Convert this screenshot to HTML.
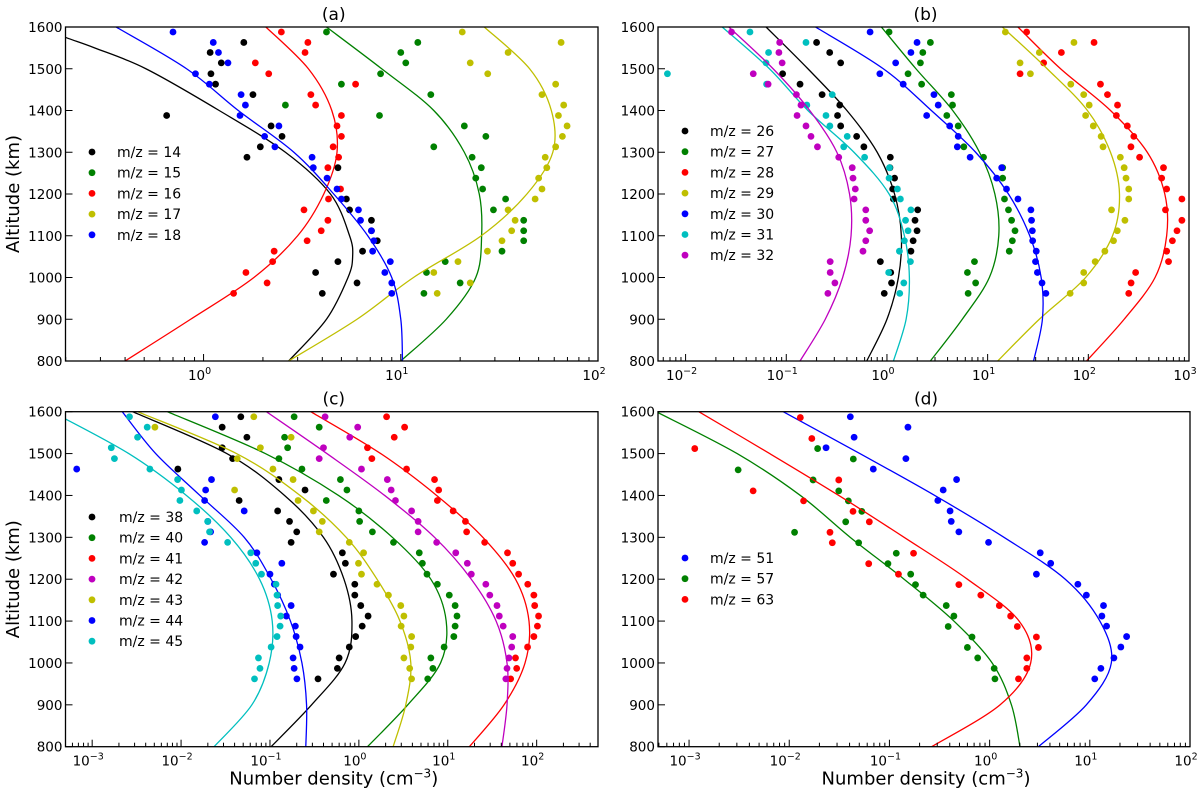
<!DOCTYPE html>
<html><head><meta charset="utf-8"><style>
html,body{margin:0;padding:0;background:#fff;}
svg{display:block;font-family:"DejaVu Sans","Liberation Sans",sans-serif;}
</style></head><body>
<svg id="fig" width="1200" height="795" viewBox="0 0 1200 795"></svg>
<script>
// ---------- DATA ----------
const altGrid=[1588,1563,1539,1514,1488,1463,1438,1413,1388,1363,1338,1313,1288,1263,1238,1212,1188,1162,1137,1112,1088,1063,1038,1012,987,962];
const fitAlt=[1600,1500,1400,1300,1200,1100,1000,900,800];
// panel a
const a14Alt=[1563,1539,1514,1488,1463,1438,1388,1363,1338,1313,1288,1263,1188,1162,1137,1112,1088,1063,1038,1012,987,962];
const a14N=[1.6,1.08,1.23,1.09,1.15,1.78,0.65,2.2,2.5,1.94,1.66,4.8,5.3,5.5,7.1,7.1,7.6,6.4,4.8,3.7,6.0,4.0];
const a14FitAlt=[1600,1575,1550,1500,1400,1300,1200,1100,1050,1000,900,800];
const a14Fit=[0.15,0.2,0.28,0.51,1.2,2.6,4.4,5.5,5.7,5.4,4.2,2.7];
const a15N=[4.2,12.2,10,10.6,7.9,5.0,14.2,2.6,7.8,21,27,14.7,23,25.6,24,26,34,29.5,42,42,42,32.6,16.8,13.5,20,13.1];
const a15Fit=[4.2,8,14.7,21,25,25.7,24,17,10];
const a16Alt=[1588,1563,1539,1514,1488,1463,1438,1413,1388,1363,1338,1313,1288,1263,1212,1188,1162,1137,1112,1088,1063,1038,1012,987,962];
const a16N=[2.48,3.38,3.27,1.83,2.14,5.9,3.5,3.7,5.0,4.75,5.0,4.54,4.84,4.27,4.95,4.3,3.23,4.27,3.95,3.35,2.28,2.24,1.64,2.1,1.42];
const a16Fit=[2.07,3.4,4.47,4.75,4.07,3.0,1.8,0.86,0.4];
const a17N=[20.5,65,35,22.5,27.6,61,52,67,63,69.7,66,61,54,55,50,52,48,35,38,36.5,32.6,27.5,19.5,14.7,22.5,15.3];
const a17Fit=[26.5,45,58,59,43.6,25.6,11.6,6.0,2.7];
const a18N=[0.70,1.12,1.19,1.33,0.91,1.07,1.55,1.63,1.53,2.41,2.04,2.3,3.55,3.6,4.23,4.75,5.0,6.1,6.25,7.1,7.3,7.2,8.85,8.3,9.0,9.0];
const a18Fit=[0.36,0.82,1.5,2.87,4.57,6.8,9.0,10,10.2];
// panel b
const b26Alt=[1563,1539,1514,1488,1463,1438,1413,1388,1363,1338,1313,1288,1263,1238,1212,1188,1162,1137,1112,1088,1063,1038,1012,987,962];
const b26N=[0.20,0.27,0.347,0.092,0.137,0.227,0.34,0.323,0.347,0.50,0.59,1.08,1.07,1.19,1.14,1.16,2.02,1.9,1.99,1.82,1.73,0.86,1.09,1.11,0.94];
const b26Fit=[0.063,0.164,0.40,0.80,1.19,1.39,1.3,1.0,0.63];
const b27Alt=[1588,1563,1539,1514,1488,1463,1438,1413,1388,1363,1313,1288,1263,1238,1188,1162,1137,1112,1088,1063,1038,1012,987,962];
const b27N=[1.05,2.7,2.27,2.15,1.62,2.21,4.36,4.48,3.93,5.1,5.8,9.1,14.1,14.1,14.7,16.1,17.3,18.7,17.6,16.4,7.4,6.3,7.6,6.4];
const b27Fit=[0.88,1.94,4.5,8.3,11.8,12.9,10.4,5.6,2.7];
const b28N=[24.4,114,54,36,21,132,155,195,190,244,283,265,323,558,535,600,850,584,850,760,684,600,626,295,266,252];
const b28Fit=[20,53,166,385,575,600,460,227,96];
const b29N=[15,72,32.6,21,26.6,67,90,102,94,112,134,140,208,227,237,252,252,170,231,194,178,146,117,90,90,66];
const b29Fit=[14,39,98,166,204,174,94,32.6,12.6];
const b30N=[0.68,1.99,1.73,1.22,0.85,1.45,2.93,3.23,2.48,4.2,5.1,5.0,6.7,13.8,12.3,15.4,20,26.9,27.3,27.8,28,30.4,29.9,31.2,34.7,37.9];
const b30Fit=[0.195,0.92,2.76,7.6,16.1,26.2,34,35,28.6];
const b31Alt=[1488,1588,1563,1539,1514,1463,1438,1413,1388,1363,1338,1313,1288,1263,1238,1212,1188,1162,1137,1112,1088,1063,1038,1012,987,962];
const b31N=[0.0066,0.0436,0.157,0.0667,0.063,0.0638,0.286,0.16,0.248,0.271,0.403,0.372,0.60,1.06,1.05,1.27,1.36,1.73,1.53,1.62,1.49,1.33,1.71,1.04,1.47,1.34];
const b31Fit=[0.0231,0.068,0.164,0.47,1.05,1.49,1.67,1.55,1.16];
const b32N=[0.0286,0.086,0.0845,0.091,0.047,0.066,0.126,0.14,0.128,0.157,0.176,0.204,0.332,0.452,0.46,0.485,0.472,0.616,0.616,0.673,0.616,0.578,0.273,0.273,0.304,0.259];
const b32Fit=[0.0269,0.074,0.171,0.318,0.425,0.44,0.363,0.244,0.137];
// panel c
const c38N=[0.047,0.029,0.055,0.029,0.038,0.0092,0.126,0.248,0.045,0.122,0.166,0.20,0.173,0.652,0.705,0.518,0.90,0.90,1.05,1.27,1.09,0.92,0.78,0.60,0.573,0.347];
const c38Fit=[0.00285,0.0327,0.146,0.40,0.68,0.836,0.70,0.294,0.103];
const c40N=[0.187,0.358,0.146,0.158,0.126,0.229,0.62,0.734,0.43,1.0,1.02,1.42,2.45,4.78,5.18,5.84,7.64,10.4,12.1,12.7,12.1,11.7,9.1,6.45,6.8,5.95];
const c40Fit=[0.007,0.0887,0.59,2.38,6.45,9.6,8.3,3.55,1.25];
const c41N=[2.05,3.27,2.5,1.25,1.4,3.44,7.1,7.9,7.64,11.5,15.8,16.3,26,47,53.8,62.6,79.4,93,95,105,102,93,79,57.8,59.6,51];
const c41Fit=[0.288,1.76,7.5,24.8,57.8,82,74,42.9,17.5];
const c42N=[0.417,0.97,0.79,0.40,0.358,1.07,2.09,2.31,2.58,3.92,4.64,4.64,7.5,12.3,16.6,18.4,26.8,29.7,35.8,38,42,53.8,52.4,48.8,46.4,45];
const c42Fit=[0.0912,0.437,1.95,7.1,18.4,35,46.4,46.4,40.7];
const c43N=[0.0658,0.00508,0.173,0.078,0.0428,0.108,0.182,0.04,0.207,0.308,0.388,0.358,0.78,1.13,0.99,1.07,1.6,2.15,2.96,3.21,2.99,3.92,3.84,3.21,3.73,3.92];
const c43Fit=[0.00324,0.042,0.218,0.72,1.6,2.9,3.84,3.37,2.43];
const c44Alt=[1588,1463,1438,1413,1388,1363,1338,1313,1288,1263,1238,1212,1188,1162,1137,1112,1088,1063,1038,1012,987,962];
const c44N=[0.0243,0.00067,0.022,0.0189,0.0184,0.0513,0.02,0.0215,0.0184,0.0713,0.136,0.1,0.112,0.122,0.173,0.153,0.193,0.197,0.218,0.182,0.187,0.201];
const c44Fit=[0.00218,0.00518,0.0163,0.0513,0.103,0.17,0.229,0.258,0.253];
const c45N=[0.00263,0.00416,0.00324,0.00164,0.00178,0.00446,0.00914,0.0101,0.0097,0.015,0.0199,0.0209,0.0334,0.0608,0.0692,0.0803,0.117,0.12,0.122,0.132,0.13,0.12,0.103,0.0742,0.0772,0.067];
const c45Fit=[0.00035,0.00258,0.0115,0.0362,0.0764,0.106,0.098,0.0626,0.0235];
// panel d
const d51N=[0.0407,0.153,0.0444,0.0233,0.146,0.069,0.468,0.344,0.304,0.403,0.414,0.493,0.975,3.2,4.07,2.93,7.6,9.24,13.7,13.2,14.7,23.3,20.4,17.4,12.9,11.2];
const d51Fit=[0.0087,0.0507,0.283,1.39,5.69,12.6,16.4,9.24,3.07];
const d57Alt=[1512,1487,1461,1437,1411,1387,1362,1337,1312,1287,1262,1237,1212,1187,1162,1137,1112,1087,1062,1037,1012,987,962];
const d57N=[0.0192,0.0436,0.00309,0.0173,0.0312,0.0389,0.053,0.0366,0.0113,0.0493,0.117,0.0966,0.163,0.182,0.217,0.369,0.44,0.386,0.667,0.60,0.76,1.11,1.13];
const d57Fit=[0.00047,0.00302,0.0129,0.0406,0.14,0.44,1.06,1.65,2.01];
const d63Alt=[1586,1536,1512,1437,1411,1387,1362,1337,1312,1287,1262,1237,1212,1187,1162,1137,1112,1087,1062,1037,1012,987,962];
const d63N=[0.0129,0.0168,0.00114,0.0312,0.00436,0.0139,0.0433,0.063,0.0255,0.0269,0.174,0.0621,0.123,0.493,0.817,1.25,1.62,1.89,2.93,3.07,2.35,2.35,1.94];
const d63Fit=[0.00125,0.00638,0.0312,0.14,0.60,1.97,2.57,1.27,0.264];
const yTicks=[800,900,1000,1100,1200,1300,1400,1500,1600];

// ---------- DRAW ----------
const NS='http://www.w3.org/2000/svg';
const svg=document.getElementById('fig');
function mk(tag,attrs,parent){const e=document.createElementNS(NS,tag);for(const k in attrs)e.setAttribute(k,attrs[k]);(parent||svg).appendChild(e);return e;}
const COL={k:'#000000',g:'#008000',r:'#ff0000',y:'#bfbf00',b:'#0000ff',c:'#00bfbf',m:'#bf00bf'};

const panels=[
 {id:'a',x0:65.5,x1:598,y0:27,y1:361,lmin:-0.70,lmax:2,dec:[0,1,2],xlab:false,ylab:true,
  leg:{mx:92,tx:117,y:152},
  series:[
   {lab:14,c:'k',alt:a14Alt,n:a14N,fa:a14FitAlt,f:a14Fit},
   {lab:15,c:'g',alt:altGrid,n:a15N,fa:fitAlt,f:a15Fit},
   {lab:16,c:'r',alt:a16Alt,n:a16N,fa:fitAlt,f:a16Fit},
   {lab:17,c:'y',alt:altGrid,n:a17N,fa:fitAlt,f:a17Fit},
   {lab:18,c:'b',alt:altGrid,n:a18N,fa:fitAlt,f:a18Fit}]},
 {id:'b',x0:658,x1:1189,y0:27,y1:361,lmin:-2.274,lmax:3,dec:[-2,-1,0,1,2,3],xlab:false,ylab:false,
  leg:{mx:685,tx:710,y:131},
  series:[
   {lab:26,c:'k',alt:b26Alt,n:b26N,fa:fitAlt,f:b26Fit},
   {lab:27,c:'g',alt:b27Alt,n:b27N,fa:fitAlt,f:b27Fit},
   {lab:28,c:'r',alt:altGrid,n:b28N,fa:fitAlt,f:b28Fit},
   {lab:29,c:'y',alt:altGrid,n:b29N,fa:fitAlt,f:b29Fit},
   {lab:30,c:'b',alt:altGrid,n:b30N,fa:fitAlt,f:b30Fit},
   {lab:31,c:'c',alt:b31Alt,n:b31N,fa:fitAlt,f:b31Fit},
   {lab:32,c:'m',alt:altGrid,n:b32N,fa:fitAlt,f:b32Fit}]},
 {id:'c',x0:65.5,x1:598,y0:411.7,y1:746.7,lmin:-3.30,lmax:2.69,dec:[-3,-2,-1,0,1,2],xlab:true,ylab:true,
  leg:{mx:92,tx:119,y:517},
  series:[
   {lab:38,c:'k',alt:altGrid,n:c38N,fa:fitAlt,f:c38Fit},
   {lab:40,c:'g',alt:altGrid,n:c40N,fa:fitAlt,f:c40Fit},
   {lab:41,c:'r',alt:altGrid,n:c41N,fa:fitAlt,f:c41Fit},
   {lab:42,c:'m',alt:altGrid,n:c42N,fa:fitAlt,f:c42Fit},
   {lab:43,c:'y',alt:altGrid,n:c43N,fa:fitAlt,f:c43Fit},
   {lab:44,c:'b',alt:c44Alt,n:c44N,fa:fitAlt,f:c44Fit},
   {lab:45,c:'c',alt:altGrid,n:c45N,fa:fitAlt,f:c45Fit}]},
 {id:'d',x0:658,x1:1190,y0:411.7,y1:746.7,lmin:-3.31,lmax:2,dec:[-3,-2,-1,0,1,2],xlab:true,ylab:false,
  leg:{mx:685,tx:710,y:558},
  series:[
   {lab:51,c:'b',alt:altGrid,n:d51N,fa:fitAlt,f:d51Fit},
   {lab:57,c:'g',alt:d57Alt,n:d57N,fa:fitAlt,f:d57Fit},
   {lab:63,c:'r',alt:d63Alt,n:d63N,fa:fitAlt,f:d63Fit}]}
];

function catmull(pts){
  let d='M'+pts[0][0].toFixed(2)+','+pts[0][1].toFixed(2);
  for(let i=0;i<pts.length-1;i++){
    const p0=pts[Math.max(0,i-1)],p1=pts[i],p2=pts[i+1],p3=pts[Math.min(pts.length-1,i+2)];
    const c1=[p1[0]+(p2[0]-p0[0])/6,p1[1]+(p2[1]-p0[1])/6];
    const c2=[p2[0]-(p3[0]-p1[0])/6,p2[1]-(p3[1]-p1[1])/6];
    d+='C'+c1[0].toFixed(2)+','+c1[1].toFixed(2)+' '+c2[0].toFixed(2)+','+c2[1].toFixed(2)+' '+p2[0].toFixed(2)+','+p2[1].toFixed(2);
  }
  return d;
}

panels.forEach(P=>{
  const g=mk('g',{});
  
  
  const xs=v=>P.x0+(Math.log10(v)-P.lmin)/(P.lmax-P.lmin)*(P.x1-P.x0);
  const ys=a=>P.y1-(a-800)/800*(P.y1-P.y0);
  const cp=mk('clipPath',{id:'clip-'+P.id},g);
  mk('rect',{x:P.x0,y:P.y0,width:P.x1-P.x0,height:P.y1-P.y0},cp);
  const plot=mk('g',{'clip-path':'url(#clip-'+P.id+')'},g);
  
  
  P.series.forEach(S=>{
    const col=COL[S.c];
    const pts=S.fa.map((a,i)=>[xs(S.f[i]),ys(a)]);
    const path=mk('path',{d:catmull(pts),fill:'none',stroke:col,'stroke-width':1.3},plot);
    
    
    S.alt.forEach((a,i)=>{
      const c=mk('circle',{cx:xs(S.n[i]),cy:ys(a),r:3.4,fill:col},plot);
      
      
    });
  });
  const fr=mk('rect',{x:P.x0,y:P.y0,width:P.x1-P.x0,height:P.y1-P.y0,fill:'none',stroke:'#000','stroke-width':1.3},g);
  
  
  yTicks.forEach(t=>{
    const y=ys(t);
    mk('line',{x1:P.x0,x2:P.x0+7,y1:y,y2:y,stroke:'#000','stroke-width':1},g);
    const tx=mk('text',{x:P.x0-3,y:y+5,'text-anchor':'end','font-size':13.5},g);
    tx.textContent=t;
    
    
  });
  for(let e=Math.floor(P.lmin);e<=Math.ceil(P.lmax);e++){
    for(let m=1;m<10;m++){
      const l=e+Math.log10(m);
      if(l<P.lmin-1e-6||l>P.lmax+1e-6)continue;
      const x=xs(Math.pow(10,l));
      mk('line',{x1:x,x2:x,y1:P.y1,y2:P.y1-(m===1?7:4),stroke:'#000','stroke-width':1},g);
    }
  }
  P.dec.forEach(e=>{
    const x=xs(Math.pow(10,e));
    const t=mk('text',{x:x-4,y:P.y1+19,'text-anchor':'middle','font-size':13.5},g);
    
    
    const a=mk('tspan',{},t);a.textContent='10';
    const b=mk('tspan',{dy:-6,'font-size':9.5},t);b.textContent=(e<0?'\u2212'+(-e):''+e);
  });
  const ti=mk('text',{x:(P.x0+P.x1)/2+2,y:P.y0-7,'text-anchor':'middle','font-size':17},g);
  ti.textContent='('+P.id+')';
  
  
  if(P.ylab){
    const yl=mk('text',{x:0,y:0,'text-anchor':'middle','font-size':18,transform:'translate(19,'+((P.y0+P.y1)/2)+') rotate(-90)'},g);
    yl.textContent='Altitude (km)';
    
    
  }
  if(P.xlab){
    const xl=mk('text',{x:(P.x0+P.x1)/2+2,y:P.y1+38,'text-anchor':'middle','font-size':18},g);
    
    
    const t1=mk('tspan',{},xl);t1.textContent='Number density (cm';
    const t2=mk('tspan',{dy:-7,'font-size':12},xl);t2.textContent='\u22123';
    const t3=mk('tspan',{dy:7},xl);t3.textContent=')';
  }
  const lg=mk('g',{},g);
  
  
  P.series.forEach((S,i)=>{
    const y=P.leg.y+i*20.7;
    const en=mk('g',{},lg);
    
    
    mk('circle',{cx:P.leg.mx,cy:y,r:3.4,fill:COL[S.c]},en);
    const t=mk('text',{x:P.leg.tx,y:y+5,'font-size':14},en);
    t.textContent='m/z = '+S.lab;
  });
});
</script>
</body></html>
